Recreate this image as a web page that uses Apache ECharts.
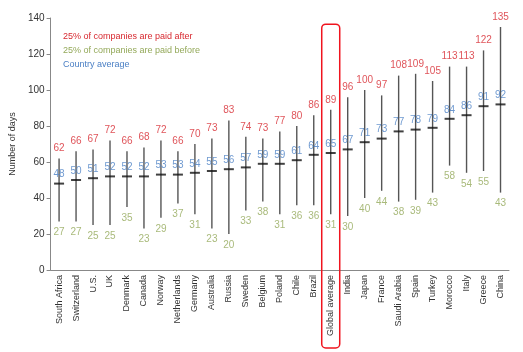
<!DOCTYPE html>
<html><head><meta charset="utf-8">
<script src="https://cdn.jsdelivr.net/npm/echarts@6/dist/echarts.min.js"></script>
<style>html,body{margin:0;padding:0;background:#fff}#c{width:523px;height:352px}</style>
</head><body><div id="c"></div>
<script>
var categories = ["South Africa","Switzerland","U.S.","UK","Denmark","Canada","Norway","Netherlands","Germany","Australia","Russia","Sweden","Belgium","Poland","Chile","Brazil","Global average","India","Japan","France","Saudi Arabia","Spain","Turkey","Morocco","Italy","Greece","China"];
var paidAfter = [62,66,67,72,66,68,72,66,70,73,83,74,73,77,80,86,89,96,100,97,108,109,105,113,113,122,135];
var average = [48,50,51,52,52,52,53,53,54,55,56,57,59,59,61,64,65,67,71,73,77,78,79,84,86,91,92];
var paidBefore = [27,27,25,25,35,23,29,37,31,23,20,33,38,31,36,36,31,30,40,44,38,39,43,58,54,55,43];
var yTicks = [0,20,40,60,80,100,120,140];
var highlightCategory = "Global average";

var RED = '#d7282f', GREEN = '#94a95a', BLUE = '#4a7fc4';
var FONT = 'Liberation Sans';

var rangeData = categories.map(function(c,i){ return [i, paidBefore[i], paidAfter[i]]; });

var chart = echarts.init(document.getElementById('c'));
chart.setOption({
  animation: false,
  textStyle: {fontFamily: FONT},
  grid: {left: 37, right: 14, top: 18, bottom: 82},
  xAxis: {
    type: 'category', data: categories,
    axisLine: {lineStyle: {color: '#888'}},
    axisTick: {lineStyle: {color: '#888'}, length: 4},
    axisLabel: {rotate: 90, fontSize: 9, color: '#333', margin: 5, fontFamily: FONT}
  },
  yAxis: {
    type: 'value', min: yTicks[0], max: yTicks[yTicks.length-1], interval: 20,
    name: 'Number of days', nameLocation: 'middle', nameGap: 27,
    nameTextStyle: {fontSize: 9, color: '#333', fontFamily: FONT},
    axisLine: {show: true, lineStyle: {color: '#888'}},
    axisTick: {show: true, lineStyle: {color: '#888'}, length: 4},
    axisLabel: {fontSize: 10, color: '#333', margin: 6, fontFamily: FONT},
    splitLine: {show: false}
  },
  legend: {show: false},
  series: [
    {
      type: 'custom',
      data: rangeData,
      encode: {x: 0, y: [1,2]},
      renderItem: function(params, api){
        var lo = api.coord([api.value(0), api.value(1)]);
        var hi = api.coord([api.value(0), api.value(2)]);
        return {type: 'line', shape: {x1: lo[0], y1: lo[1], x2: hi[0], y2: hi[1]},
                style: {stroke: '#555', lineWidth: 1.4}};
      },
      z: 2
    },
    {
      type: 'scatter', data: average, symbol: 'rect', symbolSize: [10,2],
      itemStyle: {color: '#111'}, z: 3,
      label: {show: true, position: 'top', distance: 3, color: BLUE, fontSize: 10, fontFamily: FONT}
    },
    {
      type: 'scatter', data: paidAfter, symbolSize: 0.01, itemStyle: {color: 'rgba(0,0,0,0)'},
      label: {show: true, position: 'top', distance: 5, color: RED, fontSize: 10, fontFamily: FONT}
    },
    {
      type: 'scatter', data: paidBefore, symbolSize: 0.01, itemStyle: {color: 'rgba(0,0,0,0)'},
      label: {show: true, position: 'bottom', distance: 6, color: GREEN, fontSize: 10, fontFamily: FONT}
    }
  ]
});

var hx = chart.convertToPixel({xAxisIndex: 0}, categories.indexOf(highlightCategory));
var ytop = chart.convertToPixel({yAxisIndex: 0}, 136);
chart.setOption({
  graphic: [
    {type: 'rect', shape: {x: hx - 9, y: ytop - 1, width: 18, height: 349 - ytop, r: 4},
     style: {fill: 'none', stroke: '#f0141e', lineWidth: 1.5}, z: 10},
    {type: 'text', left: 63, top: 32, style: {text: '25% of companies are paid after', fill: RED, fontSize: 9, fontFamily: FONT}},
    {type: 'text', left: 63, top: 46, style: {text: '25% of companies are paid before', fill: GREEN, fontSize: 9, fontFamily: FONT}},
    {type: 'text', left: 63, top: 60, style: {text: 'Country average', fill: BLUE, fontSize: 9, fontFamily: FONT}}
  ]
});
</script></body></html>
